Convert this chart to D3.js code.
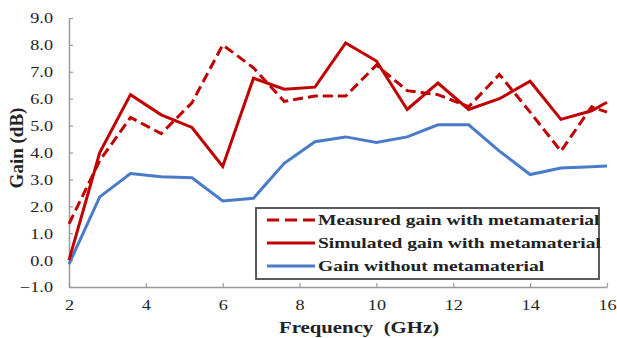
<!DOCTYPE html>
<html>
<head>
<meta charset="utf-8">
<script src="https://cdn.jsdelivr.net/npm/d3@7"></script>
<style>
  html, body { margin: 0; padding: 0; background: #fff; }
  svg { display: block; }
  text { font-family: "Times New Roman", "Liberation Serif", serif; fill: #222; }
</style>
</head>
<body>
<svg id="chart" width="617" height="338"></svg>
<script>
// Frequency samples (GHz)
const frequency = [2, 2.8, 3.6, 4.4, 5.2, 6.0, 6.8, 7.6, 8.4, 9.2, 10.0, 10.8, 11.6, 12.4, 13.2, 14.0, 14.8, 15.6, 16.0];
// Gain (dB)
const measuredGain  = [1.35, 3.7, 5.3, 4.7, 5.85, 8.0, 7.15, 5.9, 6.1, 6.1, 7.25, 6.3, 6.15, 5.7, 6.9, 5.5, 4.05, 5.7, 5.5];
const simulatedGain = [0.0, 4.0, 6.15, 5.4, 4.93, 3.48, 6.76, 6.35, 6.43, 8.07, 7.4, 5.6, 6.58, 5.6, 6.0, 6.65, 5.23, 5.55, 5.87];
const plainGain     = [-0.15, 2.35, 3.22, 3.1, 3.06, 2.2, 2.3, 3.6, 4.4, 4.58, 4.37, 4.58, 5.03, 5.03, 4.05, 3.18, 3.42, 3.47, 3.5];

const xTicks = [2, 4, 6, 8, 10, 12, 14, 16];
const yTicks = [-1, 0, 1, 2, 3, 4, 5, 6, 7, 8, 9];

const seriesNames = [
  "Measured gain with metamaterial",
  "Simulated gain with metamaterial",
  "Gain without metamaterial"
];

const RED = "#c00000", BLUE = "#4a7bc8", AXIS = "#9a9a9a";
const SX = 1.3; // horizontal text stretch

const svg = d3.select("#chart");
const plot = { left: 69, right: 607, top: 18, bottom: 287 };

const x = d3.scaleLinear().domain([2, 16]).range([plot.left, plot.right]);
const y = d3.scaleLinear().domain([-1, 9]).range([plot.bottom, plot.top]);

// y axis
const yAxis = svg.append("g")
  .attr("transform", `translate(${plot.left},0)`)
  .call(d3.axisLeft(y).tickValues(yTicks).tickSize(-4).tickSizeOuter(0).tickFormat(d3.format(".1f")));
yAxis.select(".domain").attr("stroke", AXIS).attr("stroke-width", 1.5);
yAxis.selectAll(".tick line").attr("stroke", AXIS).attr("stroke-width", 1.2);
yAxis.selectAll(".tick text")
  .attr("x", -16 / SX).attr("dy", "0.35em")
  .attr("transform", `scale(${SX},1)`)
  .style("font-size", "14px").style("font-family", "'Times New Roman','Liberation Serif',serif")
  .attr("fill", "#333");

// x axis
const xAxis = svg.append("g")
  .attr("transform", `translate(0,${plot.bottom})`)
  .call(d3.axisBottom(x).tickValues(xTicks).tickSize(-4).tickSizeOuter(0).tickFormat(d3.format("d")));
xAxis.select(".domain").attr("stroke", AXIS).attr("stroke-width", 1.5);
xAxis.selectAll(".tick line").attr("stroke", AXIS).attr("stroke-width", 1.2);
xAxis.selectAll(".tick text")
  .attr("y", 23).attr("dy", 0)
  .attr("transform", `scale(${SX},1)`)
  .style("font-size", "14px").style("font-family", "'Times New Roman','Liberation Serif',serif")
  .attr("fill", "#333");

// axis titles
svg.append("text")
  .attr("transform", `translate(359,333) scale(${SX},1)`)
  .attr("text-anchor", "middle")
  .style("font-size", "16px").style("font-weight", "bold")
  .attr("fill", "#1a1a1a")
  .text("Frequency\u00a0\u00a0(GHz)");

svg.append("text")
  .attr("transform", `translate(23,148) rotate(-90)`)
  .attr("text-anchor", "middle")
  .style("font-size", "19px").style("font-weight", "bold")
  .attr("fill", "#1a1a1a")
  .text("Gain (dB)");

// series lines
const line = vals => d3.line()
  .x((d, i) => x(frequency[i]))
  .y(d => y(d))(vals);

const series = [
  { values: measuredGain, color: RED, dash: "10,5" },
  { values: simulatedGain, color: RED, dash: null },
  { values: plainGain, color: BLUE, dash: null }
];

svg.append("g").selectAll("path")
  .data(series.slice().reverse())
  .join("path")
  .attr("d", d => line(d.values))
  .attr("fill", "none")
  .attr("stroke", d => d.color)
  .attr("stroke-width", 3)
  .attr("stroke-linejoin", "miter")
  .attr("stroke-dasharray", d => d.dash);

// legend
const lg = svg.append("g");
lg.append("rect")
  .attr("x", 256).attr("y", 208).attr("width", 343).attr("height", 71)
  .attr("fill", "#fff").attr("stroke", "#4a4a4a").attr("stroke-width", 1.8);

const rows = [220, 243, 266];
series.forEach((s, i) => {
  lg.append("line")
    .attr("x1", 267).attr("x2", 315)
    .attr("y1", rows[i]).attr("y2", rows[i])
    .attr("stroke", s.color).attr("stroke-width", 3)
    .attr("stroke-dasharray", s.dash ? "12,6" : null);
  lg.append("text")
    .attr("transform", `translate(318,${rows[i] + 5}) scale(${SX},1)`)
    .style("font-size", "15px").style("font-weight", "bold")
    .attr("fill", "#1a1a1a")
    .text(seriesNames[i]);
});
</script>
</body>
</html>
